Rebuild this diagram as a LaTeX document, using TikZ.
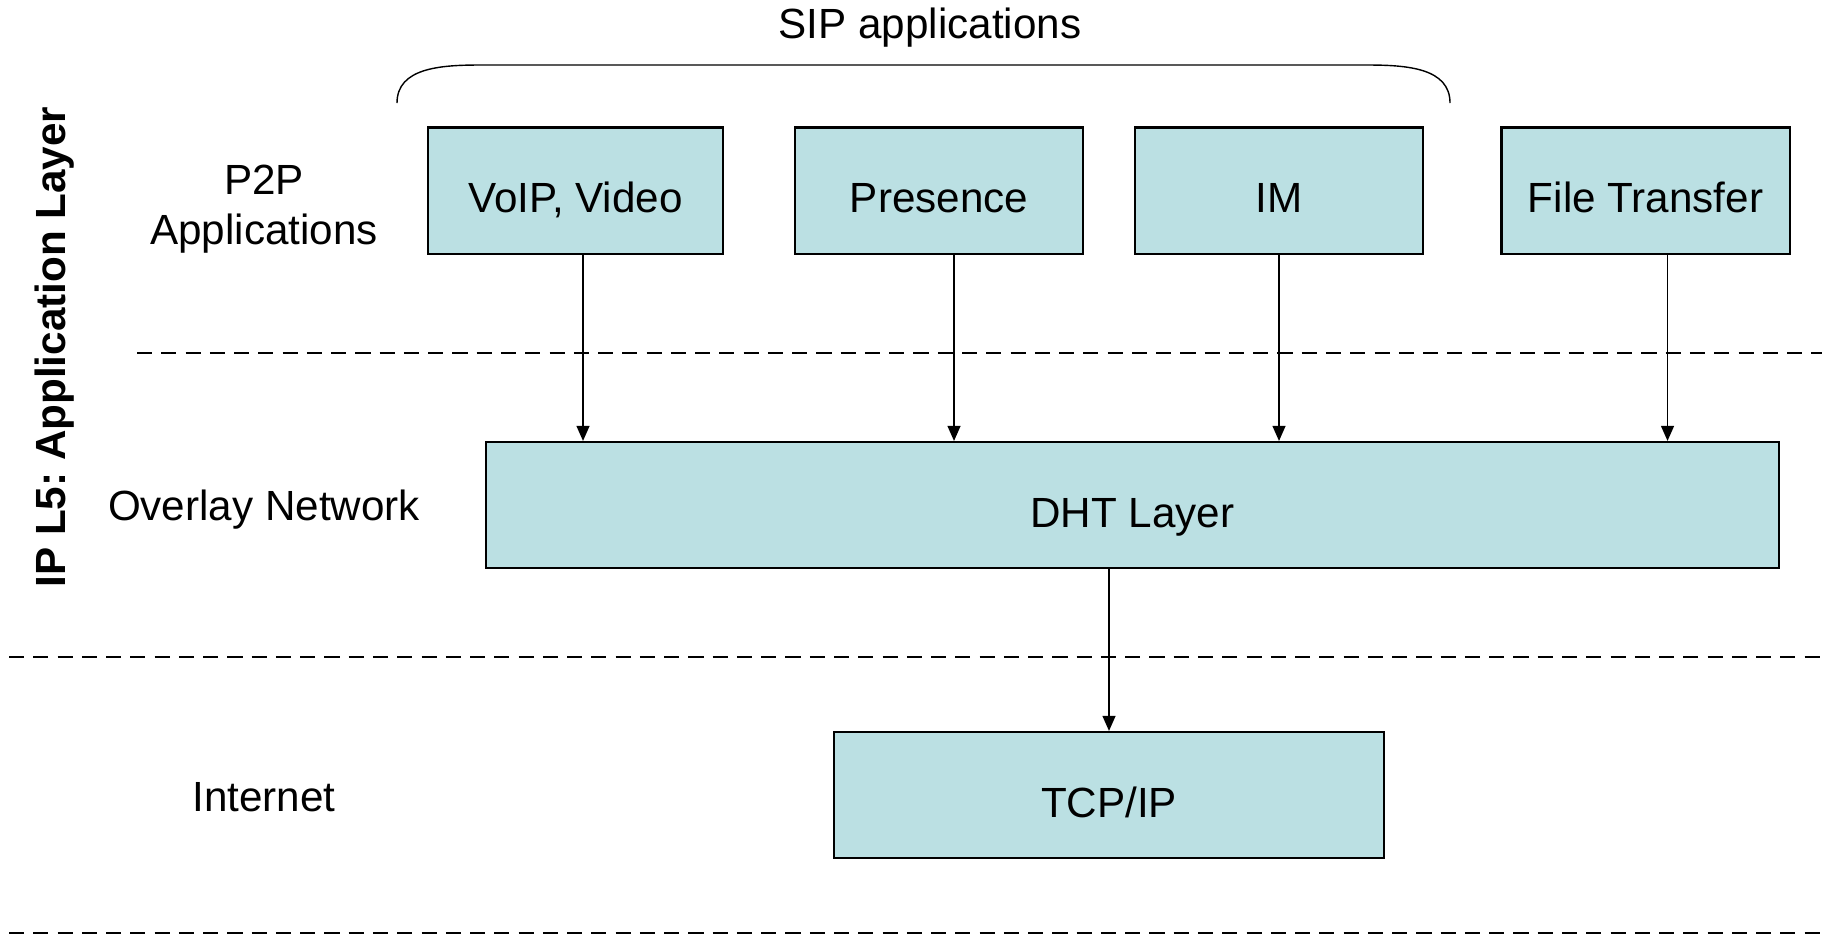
\documentclass[tikz,border=0pt]{standalone}
\usepackage{fontspec}
\setmainfont{Liberation Sans}
\usetikzlibrary{arrows.meta}
\definecolor{boxfill}{RGB}{187,224,227}

\begin{document}
\frenchspacing
\begin{tikzpicture}[x=0.01cm, y=-0.01cm, >={Triangle[length=4.3pt,width=3.7pt]}, line width=0.4pt]
    \tikzstyle{every node}=[font=\fontsize{12}{14.4}\selectfont]
    \tikzstyle{box}=[draw=black, fill=boxfill, line width=0.6pt, minimum height=1.26cm, inner sep=0pt, text height=14.6pt, text depth=2pt]
    \tikzstyle{app box}=[box, minimum width=2.88cm];
    \tikzstyle{annot}=[align=center];
    \tikzstyle{layer line}=[dash pattern=on 4.3pt off 2.6pt, line width=0.4pt];

    \useasboundingbox (0,0) rectangle (1822,935);

    % Layer separators
    \draw[layer line] (137,353) -- (1822,353);
    \draw[layer line] (9,657) -- (1822,657);
    \draw[layer line] (9,933) -- (1822,933);

    % Application boxes
    \node[app box, minimum width=2.95cm] (voip) at (575.5,190.5) {VoIP, Video};
    \node[app box] (pres) at (939,190.5) {Presence};
    \node[app box] (im) at (1279,190.5) {IM};
    \node[app box] (ft) at (1645.5,190.5) {File Transfer};

    % Lower layers
    \node[box, minimum width=12.93cm] (dht) at (1132.5,505) {DHT Layer};
    \node[box, minimum width=5.5cm] (tcp) at (1109,795) {TCP/IP};

    % Brace over the SIP applications
    \draw (397,103) .. controls (397,68) and (440,65) .. (480,65) -- (1367,65)
        .. controls (1407,65) and (1450,68) .. (1450,103);
    \node[annot] (sip) at (930,28) {SIP applications};

    % Arrows
    \draw[->] ([xshift=0.075cm]voip.south) -- ([xshift=0.075cm]voip.south |- dht.north);
    \draw[->] ([xshift=0.15cm]pres.south) -- ([xshift=0.15cm]pres.south |- dht.north);
    \draw[->] (im.south) -- (im.south |- dht.north);
    \draw[->] ([xshift=0.22cm]ft.south) -- ([xshift=0.22cm]ft.south |- dht.north);
    \draw[->] (tcp.north |- dht.south) -- (tcp.north);

    % Annotate the layers
    \node[annot] (p2p) at (264,209) {P2P\\Applications};
    \node[annot] (overlay) at (264,510) {Overlay Network};
    \node[annot] (inet) at (264,797) {Internet};
    \node[rotate=90, font=\fontsize{12}{14.4}\selectfont\bfseries] (l5) at (55,347) {IP L5: Application Layer};
\end{tikzpicture}
\end{document}
